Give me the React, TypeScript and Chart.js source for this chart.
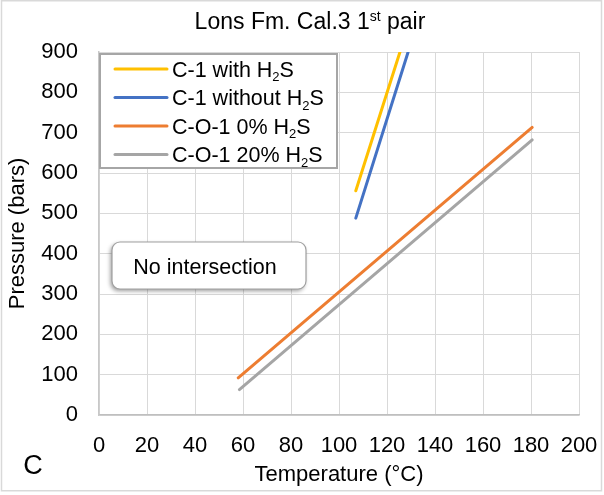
import React, { useEffect, useRef } from "react";
import { Chart, registerables } from "chart.js";

Chart.register(...registerables);

// ---- data ----
const c1WithT = [107.0, 125.4];
const c1WithP = [556, 900];
const c1WithoutT = [107.0, 128.8];
const c1WithoutP = [488, 900];
const co0T = [58.0, 180.5];
const co0P = [92, 713];
const co20T = [58.5, 180.5];
const co20P = [63, 682];

const seriesLabels = ["C-1 with H₂S", "C-1 without H₂S", "C-O-1 0% H₂S", "C-O-1 20% H₂S"];
const seriesColors = ["#FFC000", "#4472C4", "#ED7D31", "#A5A5A5"];
const seriesT = [c1WithT, c1WithoutT, co0T, co20T];
const seriesP = [c1WithP, c1WithoutP, co0P, co20P];

const titleMain = "Lons Fm. Cal.3 1";
const titleSup = "st";
const titleTail = " pair";
const xTitle = "Temperature (°C)";
const yTitle = "Pressure (bars)";
const noteText = "No intersection";
const panelLetter = "C";

const FONT = "'Liberation Sans', Arial, sans-serif";

type Seg = { t: string; mode: "n" | "sub" | "sup" };

function toSegs(s: string): Seg[] {
  const out: Seg[] = [];
  let buf = "";
  for (const ch of s) {
    if (ch === "₂") {
      if (buf) out.push({ t: buf, mode: "n" });
      buf = "";
      out.push({ t: "2", mode: "sub" });
    } else buf += ch;
  }
  if (buf) out.push({ t: buf, mode: "n" });
  return out;
}

function drawSegs(ctx: CanvasRenderingContext2D, segs: Seg[], x: number, y: number, size: number, align: "left" | "center") {
  const fontFor = (m: string) => `${m === "n" ? size : Math.round(size * 0.62)}px ${FONT}`;
  let total = 0;
  for (const s of segs) {
    ctx.font = fontFor(s.mode);
    total += ctx.measureText(s.t).width;
  }
  let cx = align === "center" ? x - total / 2 : x;
  ctx.textAlign = "left";
  ctx.textBaseline = "alphabetic";
  const base = y + size * 0.36;
  for (const s of segs) {
    ctx.font = fontFor(s.mode);
    const dy = s.mode === "sub" ? size * 0.22 : s.mode === "sup" ? -size * 0.38 : 0;
    ctx.fillText(s.t, cx, base + dy);
    cx += ctx.measureText(s.t).width;
  }
}

function roundRect(ctx: CanvasRenderingContext2D, x: number, y: number, w: number, h: number, r: number) {
  ctx.beginPath();
  ctx.moveTo(x + r, y);
  ctx.lineTo(x + w - r, y);
  ctx.arcTo(x + w, y, x + w, y + r, r);
  ctx.lineTo(x + w, y + h - r);
  ctx.arcTo(x + w, y + h, x + w - r, y + h, r);
  ctx.lineTo(x + r, y + h);
  ctx.arcTo(x, y + h, x, y + h - r, r);
  ctx.lineTo(x, y + r);
  ctx.arcTo(x, y, x + r, y, r);
  ctx.closePath();
}

const bgPlugin = {
  id: "bg",
  beforeDraw(chart: any) {
    const ctx = chart.ctx as CanvasRenderingContext2D;
    ctx.save();
    ctx.fillStyle = "#ffffff";
    ctx.fillRect(0, 0, chart.width, chart.height);
    ctx.strokeStyle = "#d9d9d9";
    ctx.lineWidth = 1.5;
    ctx.strokeRect(1.5, 0.75, chart.width - 4, 490);
    ctx.restore();
  },
};

const overlayPlugin = {
  id: "overlay",
  afterDraw(chart: any) {
    const ctx = chart.ctx as CanvasRenderingContext2D;
    ctx.save();
    ctx.fillStyle = "#000";
    // title
    drawSegs(
      ctx,
      [
        { t: titleMain, mode: "n" },
        { t: titleSup, mode: "sup" },
        { t: titleTail, mode: "n" },
      ],
      310,
      21,
      23,
      "center"
    );

    // legend
    const lx = 100, ly = 54, lw = 237, lh = 114;
    ctx.fillStyle = "#fff";
    ctx.fillRect(lx, ly, lw, lh);
    ctx.strokeStyle = "#a6a6a6";
    ctx.lineWidth = 2;
    ctx.strokeRect(lx, ly, lw, lh);
    const rows = [69, 97.5, 126, 154.5];
    seriesLabels.forEach((lab, i) => {
      ctx.strokeStyle = seriesColors[i];
      ctx.lineWidth = 3;
      ctx.lineCap = "round";
      ctx.beginPath();
      ctx.moveTo(115, rows[i]);
      ctx.lineTo(167, rows[i]);
      ctx.stroke();
      ctx.fillStyle = "#000";
      drawSegs(ctx, toSegs(lab), 172, rows[i], 21.5, "left");
    });

    // callout
    ctx.save();
    ctx.shadowColor = "rgba(0,0,0,0.4)";
    ctx.shadowBlur = 4;
    ctx.shadowOffsetX = -1.5;
    ctx.shadowOffsetY = 2;
    roundRect(ctx, 112, 242, 194, 47, 8);
    ctx.fillStyle = "#fff";
    ctx.fill();
    ctx.restore();
    roundRect(ctx, 112, 242, 194, 47, 8);
    ctx.strokeStyle = "#a0a0a0";
    ctx.lineWidth = 1.2;
    ctx.stroke();
    ctx.fillStyle = "#000";
    drawSegs(ctx, [{ t: noteText, mode: "n" }], 205, 266, 21.5, "center");

    // panel letter
    ctx.font = `27px ${FONT}`;
    ctx.textAlign = "center";
    ctx.textBaseline = "middle";
    ctx.fillText(panelLetter, 33, 467);
    ctx.restore();
  },
};

export default function App() {
  const ref = useRef<HTMLCanvasElement | null>(null);
  useEffect(() => {
    document.body.style.margin = "0";
    const canvas = ref.current;
    if (!canvas) return;
    const font = { family: FONT, size: 22 };
    const chart = new Chart(canvas, {
      type: "scatter",
      data: {
        datasets: seriesLabels.map((label, i) => ({
          label,
          data: seriesT[i].map((t, j) => ({ x: t, y: seriesP[i][j] })),
          showLine: true,
          borderColor: seriesColors[i],
          backgroundColor: seriesColors[i],
          borderWidth: 3,
          borderCapStyle: "round",
          pointRadius: 0,
          fill: false,
        })),
      },
      options: {
        responsive: false,
        animation: false,
        devicePixelRatio: 1,
        layout: { padding: { top: 52, right: 25, left: 0, bottom: 0 } },
        plugins: {
          legend: { display: false },
          tooltip: { enabled: false },
          title: { display: false },
        },
        scales: {
          x: {
            type: "linear",
            min: 0,
            max: 200,
            ticks: { stepSize: 20, color: "#000", font, padding: 18, maxRotation: 0, autoSkip: false },
            grid: { color: "#d9d9d9", drawTicks: false, lineWidth: 1 },
            border: { color: "#bfbfbf", width: 1.5 },
            title: { display: true, text: xTitle, color: "#000", font, padding: { top: 0, bottom: 7 } },
            afterFit: (s: any) => {
              s.height = 80;
              s.paddingRight = 0;
              s.paddingLeft = 0;
            },
          },
          y: {
            type: "linear",
            min: 0,
            max: 900,
            ticks: { stepSize: 100, color: "#000", font, padding: 21, autoSkip: false },
            grid: { color: "#d9d9d9", drawTicks: false, lineWidth: 1 },
            border: { color: "#c8c8c8", width: 1.5 },
            title: { display: true, text: yTitle, color: "#000", font, padding: { top: 5, bottom: 0 } },
            afterFit: (s: any) => {
              s.width = 99;
              s.paddingTop = 0;
              s.paddingBottom = 0;
            },
          },
        },
      } as any,
      plugins: [bgPlugin, overlayPlugin],
    } as any);
    return () => chart.destroy();
  }, []);
  return <canvas ref={ref} width={604} height={495} style={{ display: "block", width: 604, height: 495 }} />;
}
